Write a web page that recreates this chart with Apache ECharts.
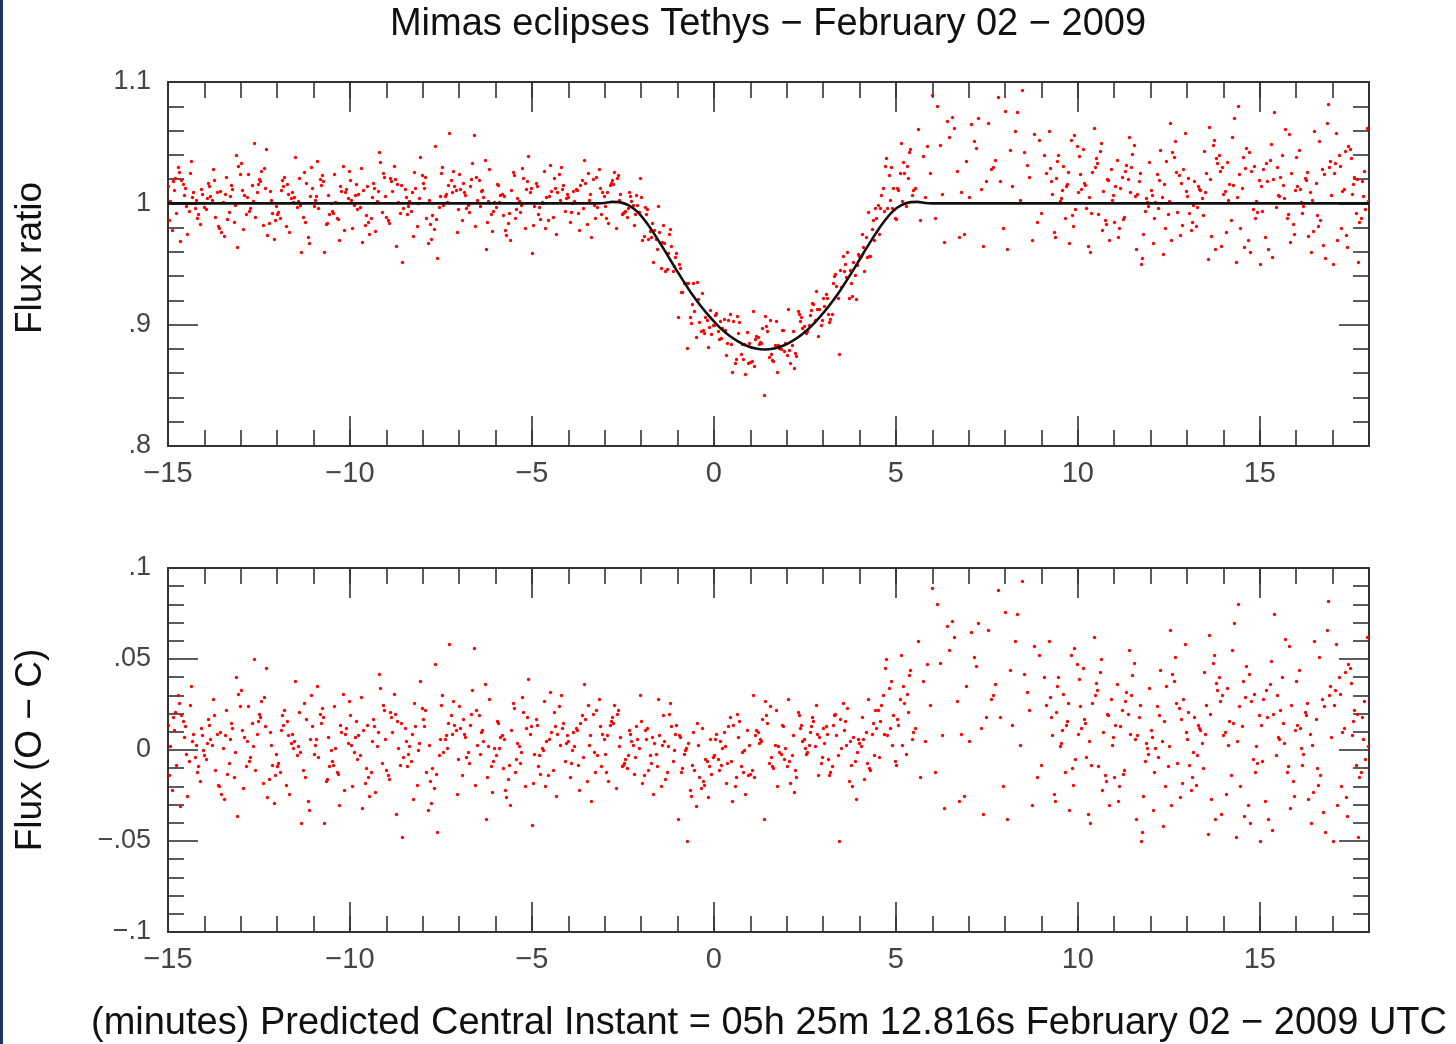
<!DOCTYPE html>
<html><head><meta charset="utf-8">
<script src="https://cdn.jsdelivr.net/npm/echarts@6/dist/echarts.min.js"></script>
<style>html,body{margin:0;padding:0;background:#fff}#chart{width:1456px;height:1044px}</style>
</head><body><div id="chart"></div>
<script>
// Observation times, seconds from the predicted central instant
const timeSec = [
-900,-898,-896,-894,-892,-890,-888,-886,-884,-882,-880,-878,-876,-874,-872,-870,-868,-866,-864,-862,-860,-858,-856,-854,-852,-850,-848,-846,-844,-842,
-840,-838,-836,-834,-832,-830,-828,-826,-824,-822,-820,-818,-816,-814,-812,-810,-808,-806,-804,-802,-800,-798,-796,-794,-792,-790,-788,-786,-784,-782,
-780,-778,-776,-774,-772,-770,-768,-766,-764,-762,-760,-758,-756,-754,-752,-750,-748,-746,-744,-742,-740,-738,-736,-734,-732,-730,-728,-726,-724,-722,
-720,-718,-716,-714,-712,-710,-708,-706,-704,-702,-700,-698,-696,-694,-692,-690,-688,-686,-684,-682,-680,-678,-676,-674,-672,-670,-668,-666,-664,-662,
-660,-658,-656,-654,-652,-650,-648,-646,-644,-642,-640,-638,-636,-634,-632,-630,-628,-626,-624,-622,-620,-618,-616,-614,-612,-610,-608,-606,-604,-602,
-600,-598,-596,-594,-592,-590,-588,-586,-584,-582,-580,-578,-576,-574,-572,-570,-568,-566,-564,-562,-560,-558,-556,-554,-552,-550,-548,-546,-544,-542,
-540,-538,-536,-534,-532,-530,-528,-526,-524,-522,-520,-518,-516,-514,-512,-510,-508,-506,-504,-502,-500,-498,-496,-494,-492,-490,-488,-486,-484,-482,
-480,-478,-476,-474,-472,-470,-468,-466,-464,-462,-460,-458,-456,-454,-452,-450,-448,-446,-444,-442,-440,-438,-436,-434,-432,-430,-428,-426,-424,-422,
-420,-418,-416,-414,-412,-410,-408,-406,-404,-402,-400,-398,-396,-394,-392,-390,-388,-386,-384,-382,-380,-378,-376,-374,-372,-370,-368,-366,-364,-362,
-360,-358,-356,-354,-352,-350,-348,-346,-344,-342,-340,-338,-336,-334,-332,-330,-328,-326,-324,-322,-320,-318,-316,-314,-312,-310,-308,-306,-304,-302,
-300,-298,-296,-294,-292,-290,-288,-286,-284,-282,-280,-278,-276,-274,-272,-270,-268,-266,-264,-262,-260,-258,-256,-254,-252,-250,-248,-246,-244,-242,
-240,-238,-236,-234,-232,-230,-228,-226,-224,-222,-220,-218,-216,-214,-212,-210,-208,-206,-204,-202,-200,-198,-196,-194,-192,-190,-188,-186,-184,-182,
-180,-178,-176,-174,-172,-170,-168,-166,-164,-162,-160,-158,-156,-154,-152,-150,-148,-146,-144,-142,-140,-138,-136,-134,-132,-130,-128,-126,-124,-122,
-120,-118,-116,-114,-112,-110,-108,-106,-104,-102,-100,-98,-96,-94,-92,-90,-88,-86,-84,-82,-80,-78,-76,-74,-72,-70,-68,-66,-64,-62,
-60,-58,-56,-54,-52,-50,-48,-46,-44,-42,-40,-38,-36,-34,-32,-30,-28,-26,-24,-22,-20,-18,-16,-14,-12,-10,-8,-6,-4,-2,
0,2,4,6,8,10,12,14,16,18,20,22,24,26,28,30,32,34,36,38,40,42,44,46,48,50,52,54,56,58,
60,62,64,66,68,70,72,74,76,78,80,82,84,86,88,90,92,94,96,98,100,102,104,106,108,110,112,114,116,118,
120,122,124,126,128,130,132,134,136,138,140,142,144,146,148,150,152,154,156,158,160,162,164,166,168,170,172,174,176,178,
180,182,184,186,188,190,192,194,196,198,200,202,204,206,208,210,212,214,216,218,220,222,224,226,228,230,232,234,236,238,
240,242,244,246,248,250,252,254,256,258,260,262,264,266,268,270,272,274,276,278,280,282,284,286,288,290,292,294,296,298,
300,302,304,306,308,310,312,314,316,318,320,322,324,326,328,332,336,340,344,348,352,356,
360,364,368,372,376,380,384,388,392,396,400,404,408,412,416,420,424,428,432,436,440,444,448,452,456,460,464,468,472,476,480,484,488,492,496,500,504,508,512,516,520,524,528,532,536,540,544,548,
552,554,556,558,560,562,564,566,568,570,572,574,576,578,580,582,584,586,588,590,592,594,596,598,
600,602,604,606,608,610,612,614,616,618,620,622,624,626,628,630,632,634,636,638,640,642,644,646,648,650,652,654,656,658,
660,662,664,666,668,670,672,674,676,678,680,682,684,686,688,690,692,694,696,698,700,702,704,706,708,710,712,714,716,718,
720,722,724,726,728,730,732,734,736,738,740,742,744,746,748,750,752,754,756,758,760,762,764,766,768,770,772,774,776,778,
780,782,784,786,788,790,792,794,796,798,800,802,804,806,808,810,812,814,816,818,820,822,824,826,828,830,832,834,836,838,
840,842,844,846,848,850,852,854,856,858,860,862,864,866,868,870,872,874,876,878,880,882,884,886,888,890,892,894,896,898,
900,902,904,906,908,910,912,914,916,918,920,922,924,926,928,930,932,934,936,938,940,942,944,946,948,950,952,954,956,958,
960,962,964,966,968,970,972,974,976,978,980,982,984,986,988,990,992,994,996,998,1000,1002,1004,1006,1008,1010,1012,1014,1016,1018,
1020,1022,1024,1026,1028,1030,1032,1034,1036,1038,1040,1042,1044,1046,1048,1050,1052,1054,1056,1058,1060,1062,1064,1066,1068,1070,1072,1074,1076,1078
];

// Observed flux ratio (O), in thousandths
const fluxMilli = [
1014,986,1002,978,1018,1011,1021,992,1030,1026,969,1019,1016,1007,1013,998,975,994,1025,1035,1005,1009,996,1003,988,991,983,1012,1008,1000,
997,995,1004,1017,1014,1006,1003,1028,1019,989,1009,981,980,1010,976,1001,973,1008,1022,987,993,1006,1015,1012,985,999,1040,964,1031,1024,
1033,1011,979,1007,991,1005,1024,994,996,1015,1002,1050,989,1009,1016,1020,1018,1027,982,1029,1013,1045,974,984,1010,1003,992,971,986,998,
991,993,988,1011,1019,1014,1022,981,1016,1008,976,1004,1009,1001,1005,1038,997,1002,1021,999,960,989,1026,985,1017,972,967,1006,1030,1013,
998,1003,1006,1035,996,1020,1015,1023,1018,960,983,984,1007,991,1000,994,992,1024,1001,988,987,970,1014,1010,1031,978,1009,1012,1004,1027,
1019,1003,980,999,1007,1016,995,1008,997,1029,968,1011,982,990,1014,985,975,988,1005,1017,1013,977,1002,1010,1042,1034,993,1025,1022,1006,
989,986,984,1021,1018,1010,1031,1020,965,1016,1001,992,1015,952,996,1012,1005,991,998,1002,994,1009,973,1026,1013,981,1000,1004,1038,1023,
1017,1013,1022,988,967,1003,983,971,990,979,1047,987,955,997,1006,1025,1030,999,1006,1008,1001,1015,1058,1019,1009,1027,1014,1011,976,995,
1024,1012,986,1017,1009,1007,996,999,993,1014,1020,1033,1056,981,1022,1003,1019,998,1010,1011,1005,1036,962,985,1002,1028,991,977,994,1001,
997,1016,1015,1001,1007,1008,990,1006,978,974,984,992,970,1011,1026,1023,988,995,1004,1002,993,999,1029,1021,980,1012,1018,1039,1009,1013,
959,982,998,1017,1014,991,997,987,1001,1000,1027,980,1005,986,1006,1032,1010,989,1021,1013,975,1009,1024,1003,1030,1012,1015,994,1004,1008,
1005,985,993,1000,1010,1002,1012,1011,992,978,1015,1019,996,1036,1017,983,1025,1003,1008,972,1020,999,988,1022,997,1028,1013,991,1009,1006,
998,988,1009,984,1015,1017,1019,1016,1026,980,1021,1023,1003,1008,991,992,993,994,989,996,1009,1006,1002,999,982,991,1007,999,993,1021,
1005,970,973,997,991,995,971,977,972,984,952,978,971,962,998,976,947,968,982,967,944,946,959,975,979,965,944,948,956,959,
906,950,947,927,927,934,934,934,881,934,906,901,917,934,911,890,935,921,902,895,926,896,893,906,904,882,898,912,892,900,
900,908,910,895,888,903,889,897,905,896,875,885,904,909,884,861,903,868,872,907,893,902,876,884,872,884,859,894,868,885,
869,870,911,866,888,891,890,884,886,885,897,842,907,899,895,873,904,876,871,870,883,903,861,883,881,880,896,896,878,885,
875,913,879,868,883,895,864,877,874,911,909,903,906,897,899,895,893,895,900,908,912,918,917,904,928,913,891,913,900,904,
922,915,925,922,909,902,905,909,934,940,942,932,922,876,945,931,957,944,950,939,960,922,945,934,924,952,941,921,949,958,
957,957,975,964,944,972,956,993,957,957,979,986,970,996,988,999,975,996,1007,1013,994,1031,1037,996,1023,1003,1030,996,1013,988,
987,1013,1011,1025,1050,1002,1034,1025,998,1031,1021,1042,1045,1007,1011,1013,1061,986,1039,1005,1047,1025,
1089,988,1080,1048,1008,968,1068,1055,1071,1062,1027,972,1009,975,1035,1005,1065,1051,1046,1070,1012,965,1018,1066,1028,1030,1036,1088,1018,980,1076,962,1044,1014,1060,1075,1003,1093,1042,1032,1022,970,1057,985,1052,992,1040,1025,
1060,1029,1018,1008,976,972,1021,1035,1040,1002,1004,1011,1031,988,1014,1016,1026,967,1052,990,981,1056,995,1047,
1009,1039,1024,1012,1045,1017,1015,996,965,1005,960,992,1026,1062,1030,1037,1033,991,1043,1050,978,1010,986,983,1020,1019,970,1028,1003,1007,
985,1014,1036,972,980,1013,1022,987,989,1027,1032,1020,1055,1009,1030,1041,1048,1006,962,1008,1018,1025,950,955,975,994,1004,1001,998,1034,
1011,1007,967,988,1001,1024,996,1019,1044,1005,958,1016,980,1035,991,1002,1066,970,1042,1038,1051,1026,993,1023,974,1017,982,1028,1058,1010,
1006,1021,992,978,985,999,1018,981,997,1014,1012,1011,1004,990,1043,1009,1025,954,1063,1020,973,1048,1052,962,1037,1033,1040,1027,965,1030,
1008,1010,976,1034,1003,1016,986,1055,1015,1070,952,1005,1080,1024,980,1013,1038,964,1029,1046,970,1042,960,1027,995,1031,988,1002,993,1019,
950,1014,994,1028,972,1033,1018,962,1036,1049,956,1020,1075,997,1030,1007,1006,1022,1040,1015,1004,1061,988,991,1057,968,1025,983,975,1011,
1038,1014,1044,1012,1001,992,998,1021,1019,1026,973,1009,960,1003,977,1060,1017,990,981,1051,986,1028,966,1024,955,1066,1082,1030,1035,1007,
950,1025,1033,1058,970,1040,1031,980,1010,1012,1043,974,964,1047,1045,1037,1008,1016,1022,992,1020,952,985,988,1018,1006,1027,995,1062,1002
];

// Residuals (O - C), in thousandths
const residMilli = [
14,-14,2,-22,18,11,21,-8,30,26,-31,19,16,7,13,-2,-25,-6,25,35,5,9,-4,3,-12,-9,-17,12,8,0,
-3,-5,4,17,14,6,3,28,19,-11,9,-19,-20,10,-24,1,-27,8,22,-13,-7,6,15,12,-15,-1,40,-36,31,24,
33,11,-21,7,-9,5,24,-6,-4,15,2,50,-11,9,16,20,18,27,-18,29,13,45,-26,-16,10,3,-8,-29,-14,-2,
-9,-7,-12,11,19,14,22,-19,16,8,-24,4,9,1,5,38,-3,2,21,-1,-40,-11,26,-15,17,-28,-33,6,30,13,
-2,3,6,35,-4,20,15,23,18,-40,-17,-16,7,-9,0,-6,-8,24,1,-12,-13,-30,14,10,31,-22,9,12,4,27,
19,3,-20,-1,7,16,-5,8,-3,29,-32,11,-18,-10,14,-15,-25,-12,5,17,13,-23,2,10,42,34,-7,25,22,6,
-11,-14,-16,21,18,10,31,20,-35,16,1,-8,15,-48,-4,12,5,-9,-2,2,-6,9,-27,26,13,-19,0,4,38,23,
17,13,22,-12,-33,3,-17,-29,-10,-21,47,-13,-45,-3,6,25,30,-1,6,8,1,15,58,19,9,27,14,11,-24,-5,
24,12,-14,17,9,7,-4,-1,-7,14,20,33,56,-19,22,3,19,-2,10,11,5,36,-38,-15,2,28,-9,-23,-6,1,
-3,16,15,1,7,8,-10,6,-22,-26,-16,-8,-30,11,26,23,-12,-5,4,2,-7,-1,29,21,-20,12,18,39,9,13,
-41,-18,-2,17,14,-9,-3,-13,1,0,27,-20,5,-14,6,32,10,-11,21,13,-25,9,24,3,30,12,15,-6,4,8,
5,-15,-7,0,10,2,12,11,-8,-22,15,19,-4,36,17,-17,25,3,8,-28,20,-1,-12,22,-3,28,13,-9,9,6,
-2,-12,8,-17,14,16,18,15,25,-21,20,22,2,7,-9,-8,-7,-5,-10,-3,11,9,5,3,-13,-4,13,6,1,30,
16,-18,-14,11,6,12,-11,-3,-7,7,-24,4,-2,-9,28,8,-20,3,19,5,-16,-12,2,20,26,13,-6,0,9,14,
-38,8,7,-12,-10,-2,0,1,-50,4,-22,-25,-8,10,-11,-31,15,3,-15,-21,12,-17,-19,-5,-6,-26,-9,6,-13,-4,
-3,6,9,-5,-11,5,-8,1,10,2,-18,-7,13,18,-6,-28,14,-20,-15,20,7,16,-9,-1,-12,0,-24,11,-14,3,
-13,-11,30,-15,8,11,10,4,6,5,17,-38,27,19,15,-7,24,-4,-9,-10,3,22,-20,2,-1,-2,14,13,-5,1,
-9,28,-6,-18,-3,8,-23,-11,-15,21,19,12,14,5,6,1,-2,-1,3,10,13,18,16,2,25,9,-14,7,-7,-4,
12,4,13,9,-5,-14,-12,-9,14,19,20,8,-3,-50,17,1,26,11,16,3,23,-17,5,-8,-20,7,-6,-27,-1,6,
4,2,18,6,-16,10,-7,28,-10,-11,9,15,-3,22,12,22,-4,16,25,30,9,45,50,8,34,12,38,3,19,-6,
-8,17,14,28,52,3,35,26,-2,31,21,41,44,6,10,12,60,-15,38,5,47,25,
89,-12,80,48,8,-32,68,55,71,62,27,-28,9,-25,35,5,65,51,46,70,12,-35,18,66,28,30,36,88,18,-20,76,-38,44,14,60,75,3,93,42,32,22,-30,57,-15,52,-8,40,25,
60,29,18,8,-24,-28,21,35,40,2,4,11,31,-12,14,16,26,-33,52,-10,-19,56,-5,47,
9,39,24,12,45,17,15,-4,-35,5,-40,-8,26,62,30,37,33,-9,43,50,-22,10,-14,-17,20,19,-30,28,3,7,
-15,14,36,-28,-20,13,22,-13,-11,27,32,20,55,9,30,41,48,6,-38,8,18,25,-50,-45,-25,-6,4,1,-2,34,
11,7,-33,-12,1,24,-4,19,44,5,-42,16,-20,35,-9,2,66,-30,42,38,51,26,-7,23,-26,17,-18,28,58,10,
6,21,-8,-22,-15,-1,18,-19,-3,14,12,11,4,-10,43,9,25,-46,63,20,-27,48,52,-38,37,33,40,27,-35,30,
8,10,-24,34,3,16,-14,55,15,70,-48,5,80,24,-20,13,38,-36,29,46,-30,42,-40,27,-5,31,-12,2,-7,19,
-50,14,-6,28,-28,33,18,-38,36,49,-44,20,75,-3,30,7,6,22,40,15,4,61,-12,-9,57,-32,25,-17,-25,11,
38,14,44,12,1,-8,-2,21,19,26,-27,9,-40,3,-23,60,17,-10,-19,51,-14,28,-34,24,-45,66,82,30,35,7,
-50,25,33,58,-30,40,31,-20,10,12,43,-26,-36,47,45,37,8,16,22,-8,20,-48,-15,-12,18,6,27,-5,62,2
];

// Model light curve (C), black line
const modelTimeSec = [-900,-192,-180,-168,-156,-141,-126,-111,-96,-81,-66,-51,-36,-21,-6,9,24,39,54,69,84,99,114,129,144,159,174,189,204,219,234,249,264,279,294,309,324,336,348,360,1080];
const modelFluxMilli = [1000,1000,1000.3,1001.2,1001,998.5,993,984,973,961,948.5,936.5,925,915,906,898,891.5,886.5,882.6,880.3,879.5,880.3,882.6,886.5,891.5,898,906,915,925,936.5,948.5,961,973,984,993,998.5,1001,1001.2,1000.3,1000,1000];

const titleText = 'Mimas eclipses Tethys \u2212 February 02 \u2212 2009';
const xTitleText = '(minutes) Predicted Central Instant = 05h 25m 12.816s February 02 \u2212 2009 UTC';
const yTopTitle = 'Flux ratio';
const yBottomTitle = 'Flux (O \u2212 C)';

const FONT = '"Liberation Sans", Arial, Helvetica, sans-serif';
const AX = '#333';
const n = Math.min(timeSec.length, fluxMilli.length, residMilli.length);
const obsFlux = [], obsResid = [];
for (let i = 0; i < n; i++) {
  const m = timeSec[i] / 60;
  obsFlux.push([m, fluxMilli[i] / 1000]);
  obsResid.push([m, residMilli[i] / 1000]);
}
const model = modelTimeSec.map((t, i) => [t / 60, modelFluxMilli[i] / 1000]);

const fmtX = v => { const r = Math.round(v); return r < 0 ? '\u2212' + Math.abs(r) : String(r); };
const fmtY = v => {
  let s = String(+(+v).toFixed(3));
  const neg = s[0] === '-';
  if (neg) s = s.slice(1);
  if (s.startsWith('0.')) s = s.slice(1);
  return (neg ? '\u2212' : '') + s;
};

const lineSt = { color: AX, width: 2 };
const tickSt = { color: AX, width: 1.6 };

function xAx(grid, position, major, labels) {
  return {
    type: 'value', gridIndex: grid, position: position, min: -15, max: 18,
    interval: major ? 5 : 1,
    axisLine: { show: major, onZero: false, lineStyle: lineSt },
    axisTick: { show: true, inside: true, length: major ? 30 : 16, lineStyle: tickSt },
    axisLabel: { show: labels, margin: 13, fontSize: 29, color: '#444', fontFamily: FONT,
                 formatter: fmtX, showMaxLabel: false, showMinLabel: true },
    splitLine: { show: false }
  };
}
function yAx(grid, position, min, max, interval, labels) {
  return {
    type: 'value', gridIndex: grid, position: position, min: min, max: max, interval: interval,
    axisLine: { show: true, onZero: false, lineStyle: lineSt },
    axisTick: { show: true, inside: true, length: 30, lineStyle: tickSt },
    minorTick: { show: true, splitNumber: 5, length: 16, lineStyle: tickSt },
    axisLabel: { show: labels, margin: 17, fontSize: 27, color: '#444', fontFamily: FONT,
                 formatter: fmtY, showMaxLabel: true, showMinLabel: true },
    splitLine: { show: false }, minorSplitLine: { show: false }
  };
}

function txt(text, x, y, size, rot) {
  return {
    type: 'text', x: x, y: y, rotation: rot || 0, silent: true,
    style: { text: text, font: size + 'px ' + FONT, fill: '#111',
             textAlign: 'center', textVerticalAlign: 'middle', align: 'center', verticalAlign: 'middle' }
  };
}

// Small dots, positioned through the axes' own scale (api.coord), snapped to the pixel grid
function dotRenderer(params, api) {
  const p = api.coord([api.value(0), api.value(1)]);
  return {
    type: 'circle',
    shape: { cx: Math.round(p[0]) + 0.5, cy: Math.round(p[1]) + 0.5, r: 1.65 },
    style: { fill: '#ff0000' },
    silent: true
  };
}

const chart = echarts.init(document.getElementById('chart'), null, { renderer: 'canvas' });
chart.setOption({
  animation: false,
  backgroundColor: '#fff',
  textStyle: { fontFamily: FONT },
  grid: [
    { left: 168, top: 82, width: 1201, height: 364, containLabel: false },
    { left: 168, top: 568, width: 1201, height: 364, containLabel: false }
  ],
  xAxis: [
    xAx(0, 'bottom', true, true), xAx(0, 'bottom', false, false),
    xAx(0, 'top', true, false), xAx(0, 'top', false, false),
    xAx(1, 'bottom', true, true), xAx(1, 'bottom', false, false),
    xAx(1, 'top', true, false), xAx(1, 'top', false, false)
  ],
  yAxis: [
    yAx(0, 'left', 0.8, 1.1, 0.1, true), yAx(0, 'right', 0.8, 1.1, 0.1, false),
    yAx(1, 'left', -0.1, 0.1, 0.05, true), yAx(1, 'right', -0.1, 0.1, 0.05, false)
  ],
  series: [
    { type: 'custom', xAxisIndex: 0, yAxisIndex: 0, data: obsFlux, renderItem: dotRenderer,
      silent: true, clip: true, z: 2 },
    { type: 'line', xAxisIndex: 0, yAxisIndex: 0, data: model, symbol: 'none', showSymbol: false,
      smooth: 0.2, lineStyle: { color: '#111', width: 2.6 }, silent: true, z: 3 },
    { type: 'custom', xAxisIndex: 4, yAxisIndex: 2, data: obsResid, renderItem: dotRenderer,
      silent: true, clip: true, z: 2 }
  ],
  graphic: [
    { type: 'rect', shape: { x: 0, y: 0, width: 3, height: 1044 }, style: { fill: '#1c355e' }, silent: true },
    txt(titleText, 768, 25, 38),
    txt(xTitleText, 769, 1024, 38),
    txt(yTopTitle, 31, 258, 37, Math.PI / 2),
    txt(yBottomTitle, 31, 750, 37, Math.PI / 2)
  ]
});
</script>
</body></html>
